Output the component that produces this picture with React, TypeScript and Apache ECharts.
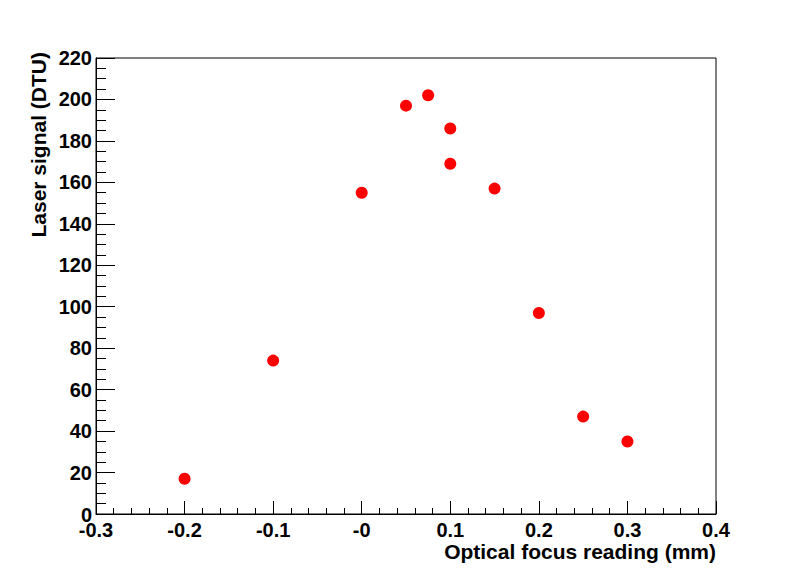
import React, { useEffect, useRef } from "react";
import * as echarts from "echarts";

const xValues = [-0.2, -0.1, 0.0, 0.05, 0.075, 0.1, 0.1, 0.15, 0.2, 0.25, 0.3];
const yValues = [17, 74, 155, 197, 202, 186, 169, 157, 97, 47, 35];
const xTickLabels = ["-0.3", "-0.2", "-0.1", "-0", "0.1", "0.2", "0.3", "0.4"];
const yTickLabels = ["0", "20", "40", "60", "80", "100", "120", "140", "160", "180", "200", "220"];
const xTitle = "Optical focus reading (mm)";
const yTitle = "Laser signal (DTU)";

const FONT = "'Liberation Sans', Arial, Helvetica, sans-serif";

export default function App() {
  const ref = useRef<HTMLDivElement>(null);
  useEffect(() => {
    if (!ref.current) return;
    const chart = echarts.init(ref.current, undefined, { renderer: "svg" });
    const data = xValues.map((x, i) => [x, yValues[i]]);
    chart.setOption({
      animation: false,
      backgroundColor: "#ffffff",
      grid: {
        left: 96,
        top: 58,
        right: 80,
        bottom: 58,
        show: true,
        borderColor: "#000",
        borderWidth: 1,
        backgroundColor: "transparent",
      },
      xAxis: {
        type: "value",
        min: -0.3,
        max: 0.4,
        interval: 0.1,
        axisLine: { show: true, onZero: false, lineStyle: { color: "#000", width: 1 } },
        axisTick: { show: true, inside: true, length: 13, lineStyle: { color: "#000" } },
        minorTick: { show: true, splitNumber: 5, length: 6, lineStyle: { color: "#000" } },
        splitLine: { show: false },
        axisLabel: {
          color: "#000",
          fontFamily: FONT,
          fontWeight: "bold",
          fontSize: 20,
          margin: 6,
          formatter: (v: number) => xTickLabels[Math.round((v + 0.3) / 0.1)] ?? String(v),
        },
      },
      yAxis: {
        type: "value",
        min: 0,
        max: 220,
        interval: 20,
        axisLine: { show: true, onZero: false, lineStyle: { color: "#000", width: 1 } },
        axisTick: { show: true, inside: true, length: 19, lineStyle: { color: "#000" } },
        minorTick: { show: true, splitNumber: 4, length: 10, lineStyle: { color: "#000" } },
        splitLine: { show: false },
        axisLabel: {
          color: "#000",
          fontFamily: FONT,
          fontWeight: "bold",
          fontSize: 20,
          margin: 4,
          formatter: (v: number) => {
            const s = yTickLabels[Math.round(v / 20)] ?? String(v);
            return v === 0 ? "{z|" + s + "}" : s;
          },
          rich: {
            z: {
              fontFamily: FONT,
              fontWeight: "bold",
              fontSize: 20,
              color: "#000",
              padding: [2, 0, 0, 0],
            },
          },
        },
      },
      series: [
        {
          type: "scatter",
          data,
          symbol: "circle",
          symbolSize: 12,
          itemStyle: { color: "#ff0000", opacity: 1 },
        },
      ],
      graphic: [
        {
          type: "text",
          x: 716,
          y: 551,
          style: {
            text: xTitle,
            fill: "#000",
            font: "bold 21px " + FONT,
            textAlign: "right",
            textVerticalAlign: "middle",
          },
        },
        {
          type: "text",
          x: 38,
          y: 52,
          rotation: Math.PI / 2,
          style: {
            text: yTitle,
            fill: "#000",
            font: "bold 21px " + FONT,
            textAlign: "right",
            textVerticalAlign: "middle",
          },
        },
      ],
    });
    return () => chart.dispose();
  }, []);
  return (
    <div
      ref={ref}
      style={{ position: "fixed", left: 0, top: 0, width: 796, height: 572, background: "#fff" }}
    />
  );
}
